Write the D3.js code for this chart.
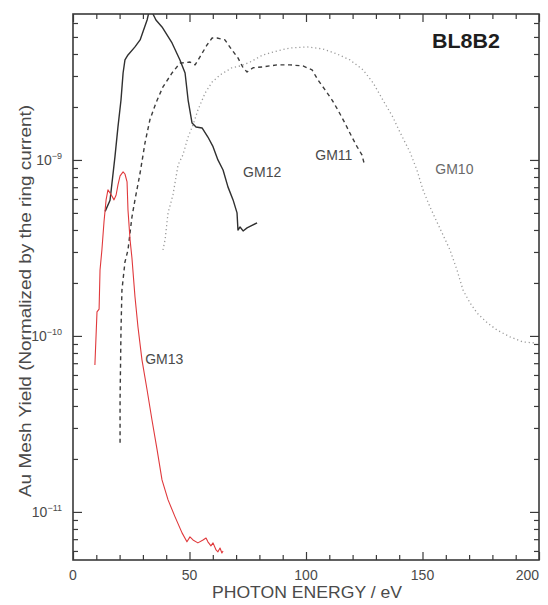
<!DOCTYPE html>
<html>
<head>
<meta charset="utf-8">
<script src="https://cdn.jsdelivr.net/npm/d3@7"></script>
<style>
  html, body { margin: 0; padding: 0; background: #fff; }
  svg { display: block; font-family: "Liberation Sans", Arial, sans-serif; }
</style>
</head>
<body>
<svg id="chart" width="548" height="605"></svg>
<script>
// Photon energy (eV) and Au mesh yield for each grating (GM10–GM13), beamline BL8B2
const gm10Energy = [38.6,39.5,40.8,42.9,45.1,47.2,49.4,51.5,53.6,56.7,59.7,63.1,68.2,71.7,76.0,81.5,87.6,93.1,100.4,107.3,113.3,118.9,124.5,128.8,133.0,137.3,140.3,144.6,147.6,150.2,153.2,156.2,158.8,161.8,164.8,167.4,170.4,173.4,177.7,182.0,187.6,193.1,198.3];
const gm10Yield = [3.08e-10,3.51e-10,5.00e-10,6.33e-10,9.37e-10,1.07e-9,1.35e-9,1.58e-9,1.92e-9,2.40e-9,2.77e-9,3.04e-9,3.34e-9,3.42e-9,3.60e-9,3.95e-9,4.16e-9,4.33e-9,4.39e-9,4.27e-9,4.00e-9,3.70e-9,3.25e-9,2.74e-9,2.19e-9,1.75e-9,1.44e-9,1.11e-9,8.77e-10,6.76e-10,5.41e-10,4.44e-10,3.75e-10,3.08e-10,2.37e-10,1.82e-10,1.54e-10,1.35e-10,1.19e-10,1.08e-10,9.87e-11,9.24e-11,9.12e-11];

const gm11Energy = [20.2,20.2,20.6,21.0,22.3,23.6,25.3,26.6,28.8,30.9,33.0,35.6,38.6,42.5,45.9,50.2,52.4,54.5,57.5,59.7,61.8,65.2,68.2,70.8,73.0,74.7,77.3,81.5,87.6,93.1,98.7,102.6,105.1,108.2,111.2,113.7,116.7,119.7,121.9,124.0,124.9];
const gm11Yield = [2.47e-11,4.33e-11,1.08e-10,1.82e-10,2.63e-10,3.08e-10,4.74e-10,5.93e-10,8.43e-10,1.25e-9,1.69e-9,2.11e-9,2.60e-9,3.12e-9,3.55e-9,3.60e-9,3.47e-9,3.85e-9,4.50e-9,4.93e-9,4.93e-9,4.81e-9,4.22e-9,3.80e-9,3.34e-9,3.16e-9,3.34e-9,3.38e-9,3.47e-9,3.47e-9,3.42e-9,3.25e-9,2.85e-9,2.50e-9,2.19e-9,1.92e-9,1.62e-9,1.35e-9,1.19e-9,1.07e-9,9.62e-10];

const gm12Energy = [13.8,15.9,18.0,19.3,20.6,21.5,22.3,23.6,26.6,28.8,30.0,31.8,32.6,33.9,35.6,38.2,42.5,45.9,48.1,49.4,51.1,52.8,55.4,57.9,60.1,62.2,64.4,66.5,68.7,70.4,70.8,71.7,73.0,74.7,76.4,79.0];
const gm12Yield = [5.1e-10,5.9e-10,1.04e-9,1.54e-9,2.19e-9,3.12e-9,3.70e-9,3.95e-9,4.39e-9,4.81e-9,5.34e-9,6.24e-9,6.93e-9,6.93e-9,6.24e-9,5.70e-9,4.62e-9,3.70e-9,3.12e-9,2.19e-9,1.62e-9,1.54e-9,1.52e-9,1.35e-9,1.19e-9,1.0e-9,8.77e-10,7.03e-10,5.93e-10,5.00e-10,4.00e-10,4.16e-10,3.95e-10,4.11e-10,4.22e-10,4.39e-10];

const gm13Energy = [9.4,10.3,11.2,11.6,12.4,13.3,14.2,15.0,15.9,16.7,17.6,18.5,19.3,20.2,21.5,22.3,23.2,23.6,24.5,25.3,26.2,26.6,27.9,29.6,31.8,33.9,36.1,38.2,40.8,43.8,46.8,48.9,50.2,51.5,53.6,55.8,57.1,57.9,59.2,60.1,61.4,62.2,63.1,63.9,64.4];
const gm13Yield = [6.84e-11,1.37e-10,1.42e-10,2.37e-10,3.08e-10,4.44e-10,5.93e-10,6.76e-10,6.49e-10,6.24e-10,5.93e-10,6.32e-10,7.21e-10,8.11e-10,8.55e-10,8.32e-10,7.50e-10,5.20e-10,3.51e-10,2.77e-10,1.95e-10,1.67e-10,1.12e-10,7.31e-11,4.93e-11,3.33e-11,2.25e-11,1.52e-11,1.17e-11,9.37e-12,7.60e-12,6.76e-12,7.21e-12,6.93e-12,6.67e-12,6.93e-12,7.11e-12,6.76e-12,6.41e-12,6.67e-12,6.08e-12,5.93e-12,6.24e-12,5.84e-12,6.00e-12];

const xTickValues = [0, 50, 100, 150, 200];
const yDecadeExponents = [-9, -10, -11];
const seriesNames = ["GM10", "GM11", "GM12", "GM13"];
const chartTitle = "BL8B2";
const xTitle = "PHOTON ENERGY / eV";
const yTitle = "Au Mesh Yield (Normalized by the ring current)";

const svg = d3.select("#chart");
const plotLeft = 73, plotRight = 539, plotTop = 14, plotBottom = 560;

const x = d3.scaleLinear().domain([0, 200]).range([plotLeft, plotRight]);
const y = d3.scaleLog().domain([5.33e-12, 6.75e-9]).range([plotBottom, plotTop]);

svg.append("defs").append("clipPath").attr("id", "plotClip")
  .append("rect").attr("x", plotLeft).attr("y", plotTop)
  .attr("width", plotRight - plotLeft).attr("height", plotBottom - plotTop);

const axisColor = "#3a3a3a";
const textColor = "#4a4a4a";

// Curves
const line = d3.line().x(d => x(d[0])).y(d => y(d[1]));
const zipSeries = (es, ys) => es.map((e, i) => [e, ys[i]]);

const series = [
  { name: seriesNames[0], data: zipSeries(gm10Energy, gm10Yield), color: "#9a9a9a", width: 1.3, dash: "1.2,2.8" },
  { name: seriesNames[1], data: zipSeries(gm11Energy, gm11Yield), color: "#3c3c3c", width: 1.4, dash: "4,3.5" },
  { name: seriesNames[2], data: zipSeries(gm12Energy, gm12Yield), color: "#303030", width: 1.4, dash: null },
  { name: seriesNames[3], data: zipSeries(gm13Energy, gm13Yield), color: "#e0393c", width: 1.1, dash: null }
];

const plot = svg.append("g").attr("clip-path", "url(#plotClip)");
plot.selectAll("path.curve").data(series).enter().append("path")
  .attr("class", "curve")
  .attr("d", d => line(d.data))
  .attr("fill", "none")
  .attr("stroke", d => d.color)
  .attr("stroke-width", d => d.width)
  .attr("stroke-dasharray", d => d.dash)
  .attr("stroke-linejoin", "round");

// Frame with inward ticks on all four sides
const xMinor = d3.range(0, 201, 10);
const yTicks = [];
for (let e = -12; e <= -9; e++) {
  for (let m = 1; m <= 9; m++) {
    const v = m * Math.pow(10, e);
    if (v >= 5.33e-12 && v <= 6.75e-9) yTicks.push({ v, major: m === 1 });
  }
}

const axes = svg.append("g").attr("stroke", axisColor).attr("fill", "none");

// bottom
axes.append("g").attr("transform", `translate(0,${plotBottom})`)
  .call(d3.axisBottom(x).tickValues(xMinor).tickSize(0).tickFormat(""))
  .call(g => g.select(".domain").remove())
  .call(g => g.selectAll(".tick line").attr("y2", d => d % 50 === 0 ? -8 : -5).attr("stroke", axisColor).attr("stroke-width", 1.2));
// top
axes.append("g").attr("transform", `translate(0,${plotTop})`)
  .call(d3.axisTop(x).tickValues(xMinor).tickSize(0).tickFormat(""))
  .call(g => g.select(".domain").remove())
  .call(g => g.selectAll(".tick line").attr("y2", d => d % 50 === 0 ? 8 : 5).attr("stroke", axisColor).attr("stroke-width", 1.2));
// left
axes.append("g").attr("transform", `translate(${plotLeft},0)`)
  .call(d3.axisLeft(y).tickValues(yTicks.map(t => t.v)).tickSize(0).tickFormat(""))
  .call(g => g.select(".domain").remove())
  .call(g => g.selectAll(".tick line").attr("x2", (d, i) => yTicks[i].major ? 9 : 5).attr("stroke", axisColor).attr("stroke-width", 1.2));
// right
axes.append("g").attr("transform", `translate(${plotRight},0)`)
  .call(d3.axisRight(y).tickValues(yTicks.map(t => t.v)).tickSize(0).tickFormat(""))
  .call(g => g.select(".domain").remove())
  .call(g => g.selectAll(".tick line").attr("x2", (d, i) => yTicks[i].major ? -9 : -5).attr("stroke", axisColor).attr("stroke-width", 1.2));

svg.append("rect")
  .attr("x", plotLeft).attr("y", plotTop)
  .attr("width", plotRight - plotLeft).attr("height", plotBottom - plotTop)
  .attr("fill", "none").attr("stroke", axisColor).attr("stroke-width", 1.6);

// X tick labels (the last one is kept inside the page edge)
svg.append("g").selectAll("text").data(xTickValues).enter().append("text")
  .attr("x", d => Math.min(x(d), 547))
  .attr("y", 580)
  .attr("text-anchor", d => x(d) + 12 > 547 ? "end" : "middle")
  .attr("font-size", 14).attr("fill", textColor)
  .text(d => d);

// Y tick labels: powers of ten
const yLab = svg.append("g").selectAll("text").data(yDecadeExponents).enter().append("text")
  .attr("x", 62).attr("y", d => y(Math.pow(10, d)) + 5)
  .attr("text-anchor", "end")
  .attr("font-size", 14).attr("fill", textColor);
yLab.append("tspan").text("10");
yLab.append("tspan").attr("font-size", 9).attr("dy", -6).text(d => "\u2212" + Math.abs(d));

// Axis titles
svg.append("text")
  .attr("x", 212).attr("y", 598)
  .attr("font-size", 16).attr("fill", textColor)
  .attr("textLength", 190).attr("lengthAdjust", "spacingAndGlyphs")
  .text(xTitle);

svg.append("text")
  .attr("transform", "translate(31,497) rotate(-90)")
  .attr("font-size", 16).attr("fill", textColor)
  .attr("textLength", 392).attr("lengthAdjust", "spacingAndGlyphs")
  .text(yTitle);

// Beamline name
svg.append("text")
  .attr("x", 432).attr("y", 48)
  .attr("font-size", 20).attr("font-weight", "bold").attr("fill", "#1e1e1e")
  .attr("textLength", 68).attr("lengthAdjust", "spacingAndGlyphs")
  .text(chartTitle);

// Curve labels
const curveLabels = [
  { text: seriesNames[0], e: 155.5, v: 8.3e-10, color: "#6a6a6a" },
  { text: seriesNames[1], e: 104.0, v: 1.0e-9, color: textColor },
  { text: seriesNames[2], e: 73.0, v: 8.0e-10, color: textColor },
  { text: seriesNames[3], e: 31.0, v: 6.9e-11, color: textColor }
];
svg.append("g").selectAll("text").data(curveLabels).enter().append("text")
  .attr("x", d => x(d.e)).attr("y", d => y(d.v))
  .attr("font-size", 14).attr("fill", d => d.color)
  .text(d => d.text);
</script>
</body>
</html>
